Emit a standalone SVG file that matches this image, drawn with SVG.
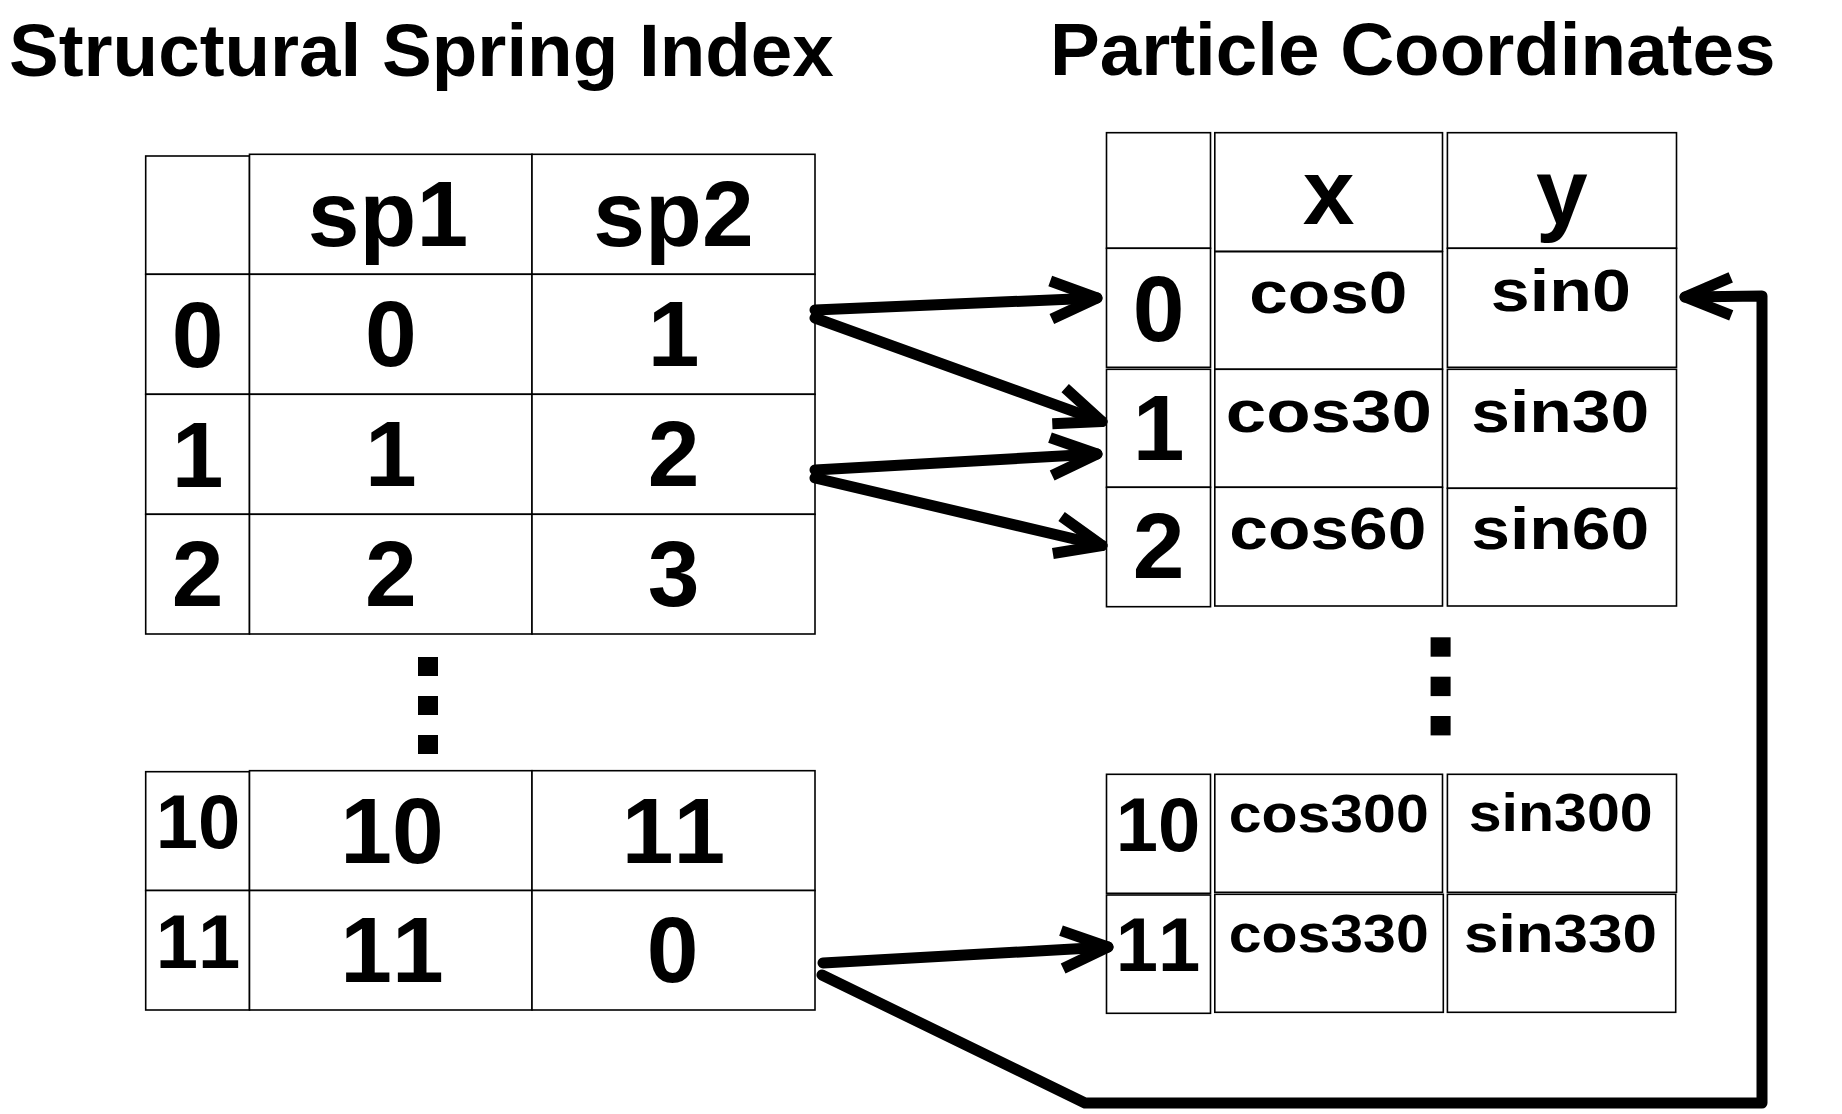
<svg xmlns="http://www.w3.org/2000/svg" width="1842" height="1114" viewBox="0 0 1842 1114">
<style>
.c{fill:#fff;stroke:#000;stroke-width:1.6}
text{font-family:"Liberation Sans",Arial,sans-serif;font-weight:bold;fill:#000;text-anchor:middle;font-kerning:none}
.t{font-size:74.6px;text-anchor:start}
.b{font-size:93px}
.m{font-size:76px}
.s{font-size:60px}
.r{font-size:53.5px}
.dot{fill:#000}
.con{fill:none;stroke:#000;stroke-width:11;stroke-linecap:round;stroke-linejoin:round}
</style>
<defs>
<marker id="ah" markerUnits="userSpaceOnUse" viewBox="-60 -40 80 80" markerWidth="80" markerHeight="80" refX="0" refY="0" orient="auto" overflow="visible">
<path d="M-46,-19 L0,0 L-46,19" fill="none" stroke="#000" stroke-width="11" stroke-linejoin="round" stroke-linecap="butt"/>
</marker>
</defs>
<rect width="1842" height="1114" fill="#fff"/>

<g id="titles">
<text class="t" x="9" y="76">Structural Spring Index</text>
<text class="t" x="1050" y="75">Particle Coordinates</text>
</g>

<g id="spring-table-top">
<rect class="c" x="145.7" y="156" width="103.8" height="118.3"/>
<rect class="c" x="145.7" y="274.3" width="103.8" height="120"/>
<rect class="c" x="145.7" y="394.3" width="103.8" height="120"/>
<rect class="c" x="145.7" y="514.3" width="103.8" height="119.7"/>
<rect class="c" x="249.5" y="154.3" width="282.5" height="120"/>
<rect class="c" x="532" y="154.3" width="283" height="120"/>
<rect class="c" x="249.5" y="274.3" width="282.5" height="120"/>
<rect class="c" x="532" y="274.3" width="283" height="120"/>
<rect class="c" x="249.5" y="394.3" width="282.5" height="120"/>
<rect class="c" x="532" y="394.3" width="283" height="120"/>
<rect class="c" x="249.5" y="514.3" width="282.5" height="119.7"/>
<rect class="c" x="532" y="514.3" width="283" height="119.7"/>
<text class="b" x="388" y="246">sp1</text>
<text class="b" x="673.5" y="246">sp2</text>
<text class="b" x="197.6" y="367">0</text>
<text class="b" x="390.8" y="366">0</text>
<text class="b" x="673.5" y="366">1</text>
<text class="b" x="197.6" y="487">1</text>
<text class="b" x="390.8" y="486">1</text>
<text class="b" x="673.5" y="486">2</text>
<text class="b" x="197.6" y="606">2</text>
<text class="b" x="390.8" y="606">2</text>
<text class="b" x="673.5" y="606">3</text>
</g>

<g id="spring-dots">
<rect class="dot" x="418" y="657" width="20" height="19"/>
<rect class="dot" x="418" y="696" width="20" height="19"/>
<rect class="dot" x="418" y="735" width="20" height="19"/>
</g>

<g id="spring-table-bottom">
<rect class="c" x="145.7" y="771.7" width="103.8" height="118.8"/>
<rect class="c" x="145.7" y="890.5" width="103.8" height="119.5"/>
<rect class="c" x="249.5" y="770.7" width="282.5" height="119.8"/>
<rect class="c" x="532" y="770.7" width="283" height="119.8"/>
<rect class="c" x="249.5" y="890.5" width="282.5" height="119.5"/>
<rect class="c" x="532" y="890.5" width="283" height="119.5"/>
<text class="m" x="198" y="848">10</text>
<text class="m" x="198" y="968">11</text>
<text class="b" x="392" y="862.7">10</text>
<text class="b" x="673.5" y="862.7">11</text>
<text class="b" x="392" y="982.3">11</text>
<text class="b" x="672.5" y="982.3">0</text>
</g>

<g id="coord-table-top">
<rect class="c" x="1106.5" y="132.7" width="104" height="115.6"/>
<rect class="c" x="1214.8" y="132.7" width="227.7" height="118.6"/>
<rect class="c" x="1447.4" y="132.7" width="229.1" height="115.6"/>
<rect class="c" x="1106.5" y="248.3" width="104" height="119"/>
<rect class="c" x="1214.8" y="251.7" width="227.7" height="117.6"/>
<rect class="c" x="1447.4" y="248.3" width="229.1" height="119"/>
<rect class="c" x="1106.5" y="369.3" width="104" height="118"/>
<rect class="c" x="1214.8" y="369.3" width="227.7" height="118"/>
<rect class="c" x="1447.4" y="369.3" width="229.1" height="119"/>
<rect class="c" x="1106.5" y="487.3" width="104" height="119.4"/>
<rect class="c" x="1214.8" y="487.3" width="227.7" height="118.7"/>
<rect class="c" x="1447.4" y="488.3" width="229.1" height="117.7"/>
<text class="b" x="1328.6" y="224">x</text>
<text class="b" x="1561.8" y="224">y</text>
<text class="b" x="1158.5" y="341">0</text>
<text class="b" x="1158.5" y="460">1</text>
<text class="b" x="1158.5" y="578.3">2</text>
<text class="s" x="1328.3" y="313.3" textLength="158" lengthAdjust="spacingAndGlyphs">cos0</text>
<text class="s" x="1560.8" y="310.7" textLength="140" lengthAdjust="spacingAndGlyphs">sin0</text>
<text class="s" x="1328.8" y="431.7" textLength="206" lengthAdjust="spacingAndGlyphs">cos30</text>
<text class="s" x="1560.3" y="431.7" textLength="178" lengthAdjust="spacingAndGlyphs">sin30</text>
<text class="s" x="1327.8" y="549.3" textLength="197" lengthAdjust="spacingAndGlyphs">cos60</text>
<text class="s" x="1560.3" y="549.3" textLength="178" lengthAdjust="spacingAndGlyphs">sin60</text>
</g>

<g id="coord-dots">
<rect class="dot" x="1430.6" y="637.3" width="20" height="19.4"/>
<rect class="dot" x="1430.6" y="676.7" width="20" height="19.4"/>
<rect class="dot" x="1430.6" y="716" width="20" height="19.4"/>
</g>

<g id="coord-table-bottom">
<rect class="c" x="1106.5" y="774.3" width="104" height="119"/>
<rect class="c" x="1214.8" y="774.3" width="227.7" height="118"/>
<rect class="c" x="1447.4" y="774.3" width="229.1" height="118"/>
<rect class="c" x="1106.5" y="895" width="104" height="118.3"/>
<rect class="c" x="1214.8" y="894.3" width="228.5" height="118"/>
<rect class="c" x="1447.4" y="894.3" width="228.3" height="118"/>
<text class="m" x="1158" y="851">10</text>
<text class="m" x="1158" y="971">11</text>
<text class="r" x="1328.7" y="831.7" textLength="200" lengthAdjust="spacingAndGlyphs">cos300</text>
<text class="r" x="1560.7" y="830.7" textLength="184" lengthAdjust="spacingAndGlyphs">sin300</text>
<text class="r" x="1328.7" y="951.7" textLength="200" lengthAdjust="spacingAndGlyphs">cos330</text>
<text class="r" x="1560.5" y="951.7" textLength="193" lengthAdjust="spacingAndGlyphs">sin330</text>
</g>

<g id="connectors">
<path class="con" d="M815,310 L1097,298" marker-end="url(#ah)"/>
<path class="con" d="M815,318 L1102,421.6" marker-end="url(#ah)"/>
<path class="con" d="M815,470 L1097,454" marker-end="url(#ah)"/>
<path class="con" d="M815,478 L1102,545.5" marker-end="url(#ah)"/>
<path class="con" d="M823,963 L1108,947" marker-end="url(#ah)"/>
<path class="con" d="M822,975 L1085,1103 L1762,1103 L1762,296 L1685,297" marker-end="url(#ah)"/>
</g>
</svg>
